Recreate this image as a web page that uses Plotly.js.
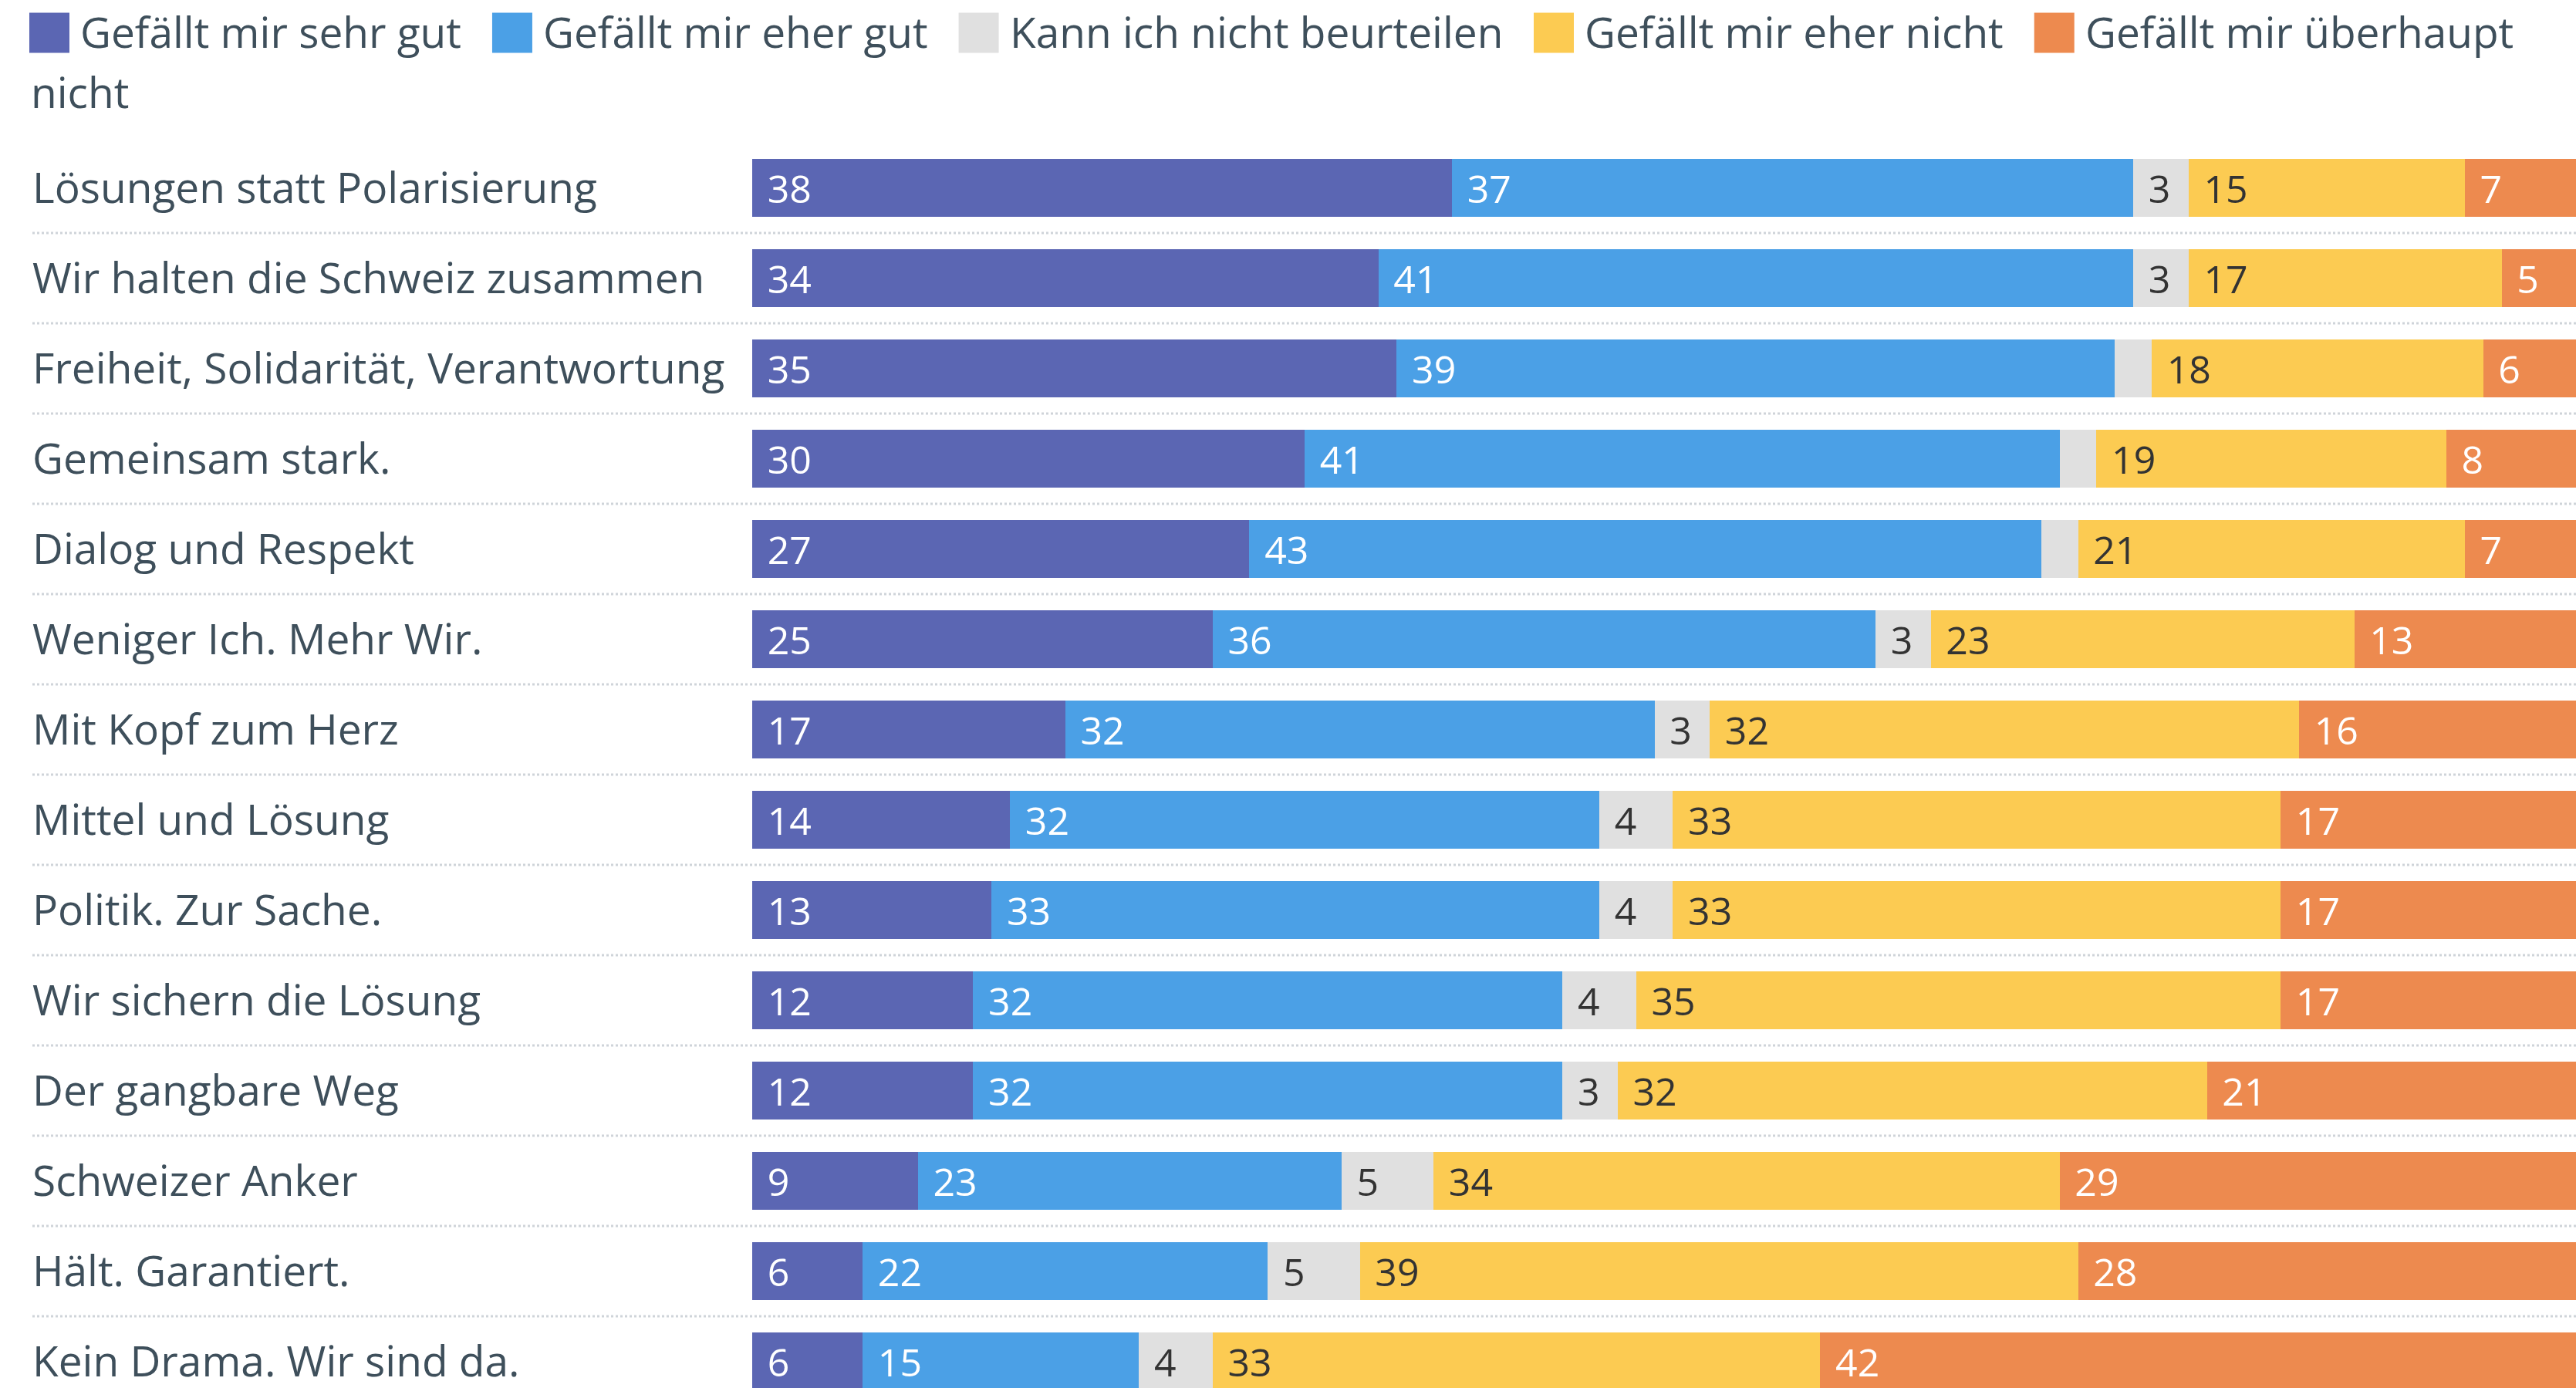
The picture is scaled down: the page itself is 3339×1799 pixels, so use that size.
<!DOCTYPE html>
<html><head><meta charset="utf-8">
<script src="https://cdn.plot.ly/plotly-3.0.1.min.js"></script>
<style>html,body{margin:0;padding:0;background:#fff;overflow:hidden}</style>
</head><body><div id="chart" style="width:3339px;height:1799px"></div>
<script>
// ---------- data ----------
const categories = [
  "Lösungen statt Polarisierung",
  "Wir halten die Schweiz zusammen",
  "Freiheit, Solidarität, Verantwortung",
  "Gemeinsam stark.",
  "Dialog und Respekt",
  "Weniger Ich. Mehr Wir.",
  "Mit Kopf zum Herz",
  "Mittel und Lösung",
  "Politik. Zur Sache.",
  "Wir sichern die Lösung",
  "Der gangbare Weg",
  "Schweizer Anker",
  "Hält. Garantiert.",
  "Kein Drama. Wir sind da."
];
const sehrGut    = [38, 34, 35, 30, 27, 25, 17, 14, 13, 12, 12,  9,  6,  6];
const eherGut    = [37, 41, 39, 41, 43, 36, 32, 32, 33, 32, 32, 23, 22, 15];
const weissNicht = [ 3,  3,  2,  2,  2,  3,  3,  4,  4,  4,  3,  5,  5,  4];
const eherNicht  = [15, 17, 18, 19, 21, 23, 32, 33, 33, 35, 32, 34, 39, 33];
const garNicht   = [ 7,  5,  6,  8,  7, 13, 16, 17, 17, 17, 21, 29, 28, 42];

const seriesNames = [
  "Gefällt mir sehr gut",
  "Gefällt mir eher gut",
  "Kann ich nicht beurteilen",
  "Gefällt mir eher nicht",
  "Gefällt mir überhaupt nicht"
];
const seriesValues = [sehrGut, eherGut, weissNicht, eherNicht, garNicht];
const seriesColors = ["#5b66b3", "#4ba0e6", "#e0e0e0", "#fccb52", "#ed8a4f"];
const valueColors  = ["#ffffff", "#ffffff", "#333333", "#333333", "#ffffff"];

// ---------- geometry / style ----------
const W = 3339, H = 1799;
const M = {l: 975, r: 0, t: 188, b: 0};
const plotW = W - M.l - M.r, plotH = H - M.t - M.b;
const rowPitch = 117;
const row0 = 243.5;                       // pixel centre of the first row
const yTop = -(row0 - M.t) / rowPitch;    // category-axis value at the plot top
const FONT = '"Open Sans", "Noto Sans", sans-serif';
const FS = 55;      // labels and legend
const FSV = 50;     // values inside the bars
const TXT = "#3e4f5b";
const xMax = 99.04;

const px = x => (x - M.l) / plotW;
const py = y => 1 - (y - M.t) / plotH;

const traces = seriesNames.map((name, k) => ({
  type: "bar",
  orientation: "h",
  name: name,
  y: categories,
  x: seriesValues[k],
  marker: {color: seriesColors[k], line: {width: 0}},
  text: seriesValues[k].map(v => "\u2004" + v),
  textposition: "inside",
  insidetextanchor: "start",
  textangle: 0,
  textfont: {family: FONT, size: FSV, color: valueColors[k]},
  hoverinfo: "name+x",
  showlegend: false
}));

const shapes = [];
const annotations = [];

// row separators (dotted)
for (let i = 0; i < categories.length - 1; i++) {
  const yPix = row0 + (i + 0.5) * rowPitch;
  shapes.push({
    type: "line", xref: "paper", yref: "paper",
    x0: px(42), x1: px(W), y0: py(yPix), y1: py(yPix),
    line: {color: "#cfd4d9", width: 3, dash: "dot"},
    layer: "below"
  });
}

// category labels (left aligned)
categories.forEach(c => {
  annotations.push({
    xref: "paper", yref: "y", x: px(42), y: c, yshift: 2,
    xanchor: "left", yanchor: "middle", showarrow: false,
    text: c, borderpad: 0, borderwidth: 0,
    font: {family: FONT, size: FS, color: TXT}
  });
});

// legend, built with wrapping like an HTML legend
const ctx = document.createElement("canvas").getContext("2d");
ctx.font = FS + 'px "Open Sans"';
const sw = 52, swGap = 14, itemGap = 40, lineH = 78, yLine0 = 42.5, xStart = 40, maxX = W - 30;
let x = 38, line = 0;
function legText(t, xx, ln) {
  annotations.push({
    xref: "paper", yref: "paper", x: px(xx), y: py(yLine0 + ln * lineH), yshift: 2,
    xanchor: "left", yanchor: "middle", showarrow: false,
    text: t, borderpad: 0, borderwidth: 0,
    font: {family: FONT, size: FS, color: TXT}
  });
}
seriesNames.forEach((name, k) => {
  if (x + sw > maxX) { line++; x = 38; }
  const yc = yLine0 + line * lineH;
  shapes.push({
    type: "rect", xref: "paper", yref: "paper",
    x0: px(x), x1: px(x + sw), y0: py(yc - sw / 2), y1: py(yc + sw / 2),
    fillcolor: seriesColors[k], line: {width: 0}
  });
  let cx = x + sw + swGap;
  let chunk = "";
  name.split(" ").forEach(w => {
    const test = chunk ? chunk + " " + w : w;
    if (chunk && cx + ctx.measureText(test).width > maxX) {
      legText(chunk, cx, line);
      line++; cx = xStart; chunk = w;
    } else {
      chunk = test;
    }
  });
  legText(chunk, cx, line);
  x = cx + ctx.measureText(chunk).width + itemGap;
});

const layout = {
  width: W, height: H,
  margin: {l: M.l, r: M.r, t: M.t, b: M.b, pad: 0},
  paper_bgcolor: "#ffffff", plot_bgcolor: "#ffffff",
  barmode: "stack",
  bargap: 1 - 75 / rowPitch,
  showlegend: false,
  uniformtext: {mode: "hide", minsize: FSV},
  font: {family: FONT, size: FS, color: TXT},
  xaxis: {range: [0, xMax], visible: false, fixedrange: true},
  yaxis: {
    type: "category", categoryorder: "array", categoryarray: categories,
    range: [yTop + plotH / rowPitch, yTop],
    showticklabels: false, showgrid: false, zeroline: false, showline: false, ticks: "",
    fixedrange: true
  },
  shapes: shapes,
  annotations: annotations
};

Plotly.newPlot("chart", traces, layout, {displayModeBar: false, staticPlot: true});
</script>
</body></html>
